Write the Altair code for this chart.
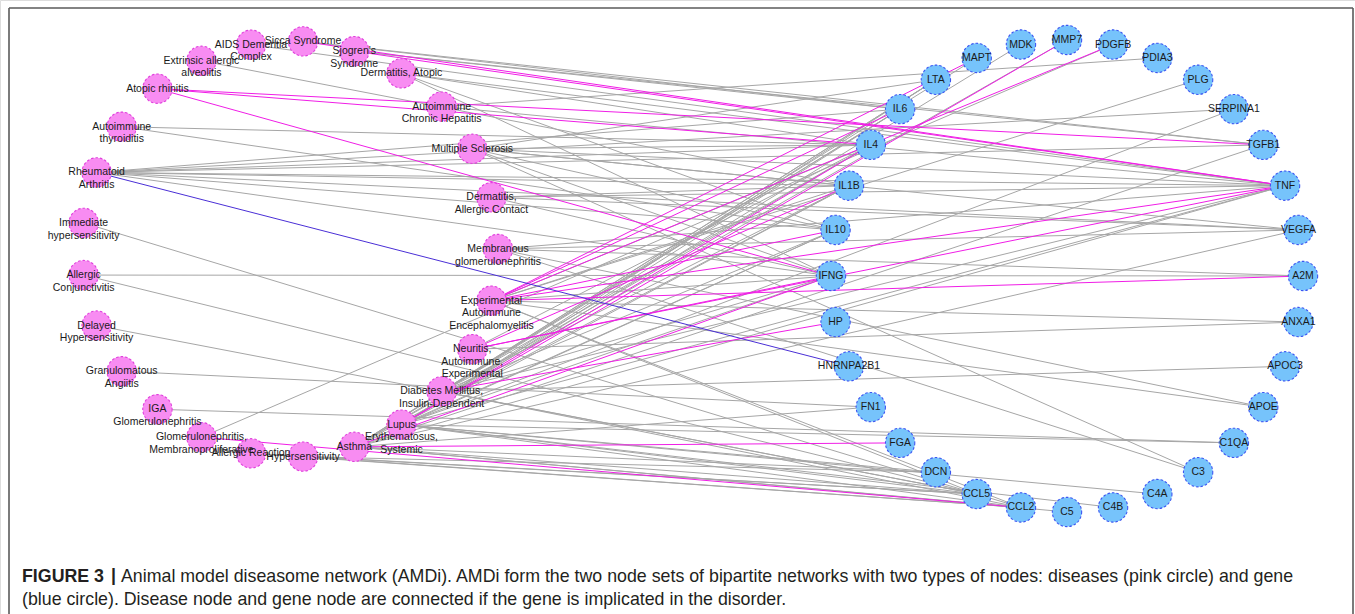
import math
import altair as alt

# Disease nodes, listed clockwise around their ring (starting at 3 o'clock)
diseases = [
    "Membranous glomerulonephritis",
    "Experimental Autoimmune Encephalomyelitis",
    "Neuritis, Autoimmune, Experimental",
    "Diabetes Mellitus, Insulin-Dependent",
    "Lupus Erythematosus, Systemic",
    "Asthma",
    "Hypersensitivity",
    "Allergic Reaction",
    "Glomerulonephritis, Membranoproliferative",
    "IGA Glomerulonephritis",
    "Granulomatous Angiitis",
    "Delayed Hypersensitivity",
    "Allergic Conjunctivitis",
    "Immediate hypersensitivity",
    "Rheumatoid Arthritis",
    "Autoimmune thyroiditis",
    "Atopic rhinitis",
    "Extrinsic allergic alveolitis",
    "AIDS Dementia Complex",
    "Sicca Syndrome",
    "Sjogren's Syndrome",
    "Dermatitis, Atopic",
    "Autoimmune Chronic Hepatitis",
    "Multiple Sclerosis",
    "Dermatitis, Allergic Contact",
]

# Wrapped node captions for the diseases
disease_labels = {
    "Membranous glomerulonephritis": "Membranous\nglomerulonephritis",
    "Experimental Autoimmune Encephalomyelitis": "Experimental\nAutoimmune\nEncephalomyelitis",
    "Neuritis, Autoimmune, Experimental": "Neuritis,\nAutoimmune,\nExperimental",
    "Diabetes Mellitus, Insulin-Dependent": "Diabetes Mellitus,\nInsulin-Dependent",
    "Lupus Erythematosus, Systemic": "Lupus\nErythematosus,\nSystemic",
    "Asthma": "Asthma",
    "Hypersensitivity": "Hypersensitivity",
    "Allergic Reaction": "Allergic Reaction",
    "Glomerulonephritis, Membranoproliferative": "Glomerulonephritis,\nMembranoproliferative",
    "IGA Glomerulonephritis": "IGA\nGlomerulonephritis",
    "Granulomatous Angiitis": "Granulomatous\nAngiitis",
    "Delayed Hypersensitivity": "Delayed\nHypersensitivity",
    "Allergic Conjunctivitis": "Allergic\nConjunctivitis",
    "Immediate hypersensitivity": "Immediate\nhypersensitivity",
    "Rheumatoid Arthritis": "Rheumatoid\nArthritis",
    "Autoimmune thyroiditis": "Autoimmune\nthyroiditis",
    "Atopic rhinitis": "Atopic rhinitis",
    "Extrinsic allergic alveolitis": "Extrinsic allergic\nalveolitis",
    "AIDS Dementia Complex": "AIDS Dementia\nComplex",
    "Sicca Syndrome": "Sicca Syndrome",
    "Sjogren's Syndrome": "Sjogren's\nSyndrome",
    "Dermatitis, Atopic": "Dermatitis, Atopic",
    "Autoimmune Chronic Hepatitis": "Autoimmune\nChronic Hepatitis",
    "Multiple Sclerosis": "Multiple Sclerosis",
    "Dermatitis, Allergic Contact": "Dermatitis,\nAllergic Contact",
}

# Gene nodes, alphabetical, clockwise from 3 o'clock
genes = [
    "A2M", "ANXA1", "APOC3", "APOE", "C1QA", "C3", "C4A", "C4B", "C5",
    "CCL2", "CCL5", "DCN", "FGA", "FN1", "HNRNPA2B1", "HP", "IFNG", "IL10",
    "IL1B", "IL4", "IL6", "LTA", "MAPT", "MDK", "MMP7", "PDGFB", "PDIA3",
    "PLG", "SERPINA1", "TGFB1", "TNF", "VEGFA",
]

# Disease-gene links; kind: g = grey, m = magenta, b = blue
links = {
    "Rheumatoid Arthritis": [("IL6", "g"), ("SERPINA1", "g"), ("IL4", "g"), ("TGFB1", "g"),
                             ("TNF", "g"), ("IL1B", "g"), ("VEGFA", "g"), ("IL10", "g"),
                             ("IFNG", "g"), ("HNRNPA2B1", "b")],
    "AIDS Dementia Complex": [("TNF", "g")],
    "Sicca Syndrome": [("TNF", "m"), ("TGFB1", "g"), ("IL6", "g")],
    "Sjogren's Syndrome": [("TNF", "m"), ("TGFB1", "g"), ("IL6", "g")],
    "Extrinsic allergic alveolitis": [("IL1B", "g")],
    "Dermatitis, Atopic": [("IL4", "g"), ("IFNG", "g"), ("IL10", "g"), ("TNF", "g")],
    "Atopic rhinitis": [("TGFB1", "m"), ("IL4", "m"), ("IFNG", "m")],
    "Autoimmune Chronic Hepatitis": [("PDIA3", "g"), ("TNF", "g")],
    "Autoimmune thyroiditis": [("IL4", "g"), ("IL10", "g")],
    "Multiple Sclerosis": [("TNF", "g"), ("IL4", "g"), ("IL10", "g"), ("IFNG", "g"),
                           ("VEGFA", "g"), ("IL1B", "g"), ("C3", "g"), ("LTA", "g")],
    "Dermatitis, Allergic Contact": [("TNF", "g"), ("IL1B", "g"), ("IFNG", "g"), ("VEGFA", "g")],
    "Immediate hypersensitivity": [("CCL2", "g")],
    "Allergic Conjunctivitis": [("A2M", "g"), ("CCL5", "g")],
    "Membranous glomerulonephritis": [("C3", "g"), ("APOE", "g"), ("TNF", "g"), ("A2M", "g"),
                                      ("VEGFA", "g")],
    "Experimental Autoimmune Encephalomyelitis": [("IL6", "m"), ("PDGFB", "m"), ("TNF", "m"),
                                                  ("A2M", "m"), ("IL10", "m"), ("IFNG", "g"),
                                                  ("IL4", "g"), ("IL1B", "g"), ("CCL2", "g"),
                                                  ("CCL5", "g"), ("MAPT", "m"), ("ANXA1", "g"),
                                                  ("APOE", "g"), ("PLG", "g")],
    "Delayed Hypersensitivity": [("CCL5", "g")],
    "Neuritis, Autoimmune, Experimental": [("IFNG", "m"), ("TNF", "m"), ("IL1B", "m"),
                                           ("ANXA1", "g"), ("IL4", "g")],
    "Granulomatous Angiitis": [("FN1", "g")],
    "Diabetes Mellitus, Insulin-Dependent": [("HP", "m"), ("IL6", "g"), ("IL4", "g"), ("IL10", "g"),
                                             ("IFNG", "g"), ("TNF", "g"), ("IL1B", "g"), ("LTA", "g"),
                                             ("CCL5", "g"), ("CCL2", "g"), ("APOC3", "g")],
    "IGA Glomerulonephritis": [("C1QA", "g")],
    "Lupus Erythematosus, Systemic": [("IL6", "g"), ("IL4", "m"), ("IL10", "g"), ("IL1B", "g"),
                                      ("IFNG", "g"), ("LTA", "g"), ("MMP7", "m"), ("MDK", "g"),
                                      ("TNF", "g"), ("CCL5", "g"), ("CCL2", "g"),
                                      ("C4A", "g"), ("C4B", "g"), ("C1QA", "g"), ("DCN", "g"),
                                      ("SERPINA1", "g")],
    "Glomerulonephritis, Membranoproliferative": [("PDGFB", "g"), ("CCL2", "m")],
    "Asthma": [("FGA", "m"), ("IL4", "g"), ("IL6", "g"), ("IL1B", "g"), ("IL10", "g"),
               ("IFNG", "m"), ("LTA", "g"), ("MMP7", "g"), ("CCL5", "g"), ("CCL2", "g"),
               ("DCN", "g"), ("FN1", "g"), ("TNF", "g"), ("C5", "g"), ("MAPT", "g"),
               ("TGFB1", "g"), ("VEGFA", "g")],
    "Allergic Reaction": [("CCL5", "g"), ("CCL2", "g")],
    "Hypersensitivity": [("CCL5", "g"), ("CCL2", "g"), ("DCN", "g")],
}

caption_head = "FIGURE 3"
caption_bar = "|"
caption_line1 = ("Animal model diseasome network (AMDi). AMDi form the two node sets of bipartite "
                 "networks with two types of nodes: diseases (pink circle) and gene")
caption_line2 = ("(blue circle). Disease node and gene node are connected if the gene is "
                 "implicated in the disorder.")

W, H = 1355, 614


def ring(names, cx, cy, r):
    """Place names evenly on a circle, clockwise on screen from 3 o'clock."""
    n = len(names)
    out = {}
    for i, name in enumerate(names):
        a = 2 * math.pi * i / n
        out[name] = (cx + r * math.cos(a), cy + r * math.sin(a))
    return out


pos = {}
pos.update(ring(diseases, 290, 249, 208))
pos.update(ring(genes, 1067, 276, 236))

edge_rows = []
for dis, targets in links.items():
    for gene, kind in targets:
        x1, y1 = pos[dis]
        x2, y2 = pos[gene]
        edge_rows.append({"x": x1, "y": y1, "x2": x2, "y2": y2, "kind": kind,
                          "order": {"g": 0, "m": 1, "b": 2}[kind]})
edge_rows.sort(key=lambda r: r["order"])

node_rows = []
for d in diseases:
    node_rows.append({"x": pos[d][0], "y": pos[d][1], "type": "disease",
                      "label": disease_labels[d]})
for g in genes:
    node_rows.append({"x": pos[g][0], "y": pos[g][1], "type": "gene", "label": g})

xs = alt.Scale(domain=[0, W], range=[0, W], nice=False, zero=False)
ys = alt.Scale(domain=[0, H], range=[0, H], nice=False, zero=False)
noax = None

edges = alt.Chart(alt.Data(values=edge_rows)).mark_rule(strokeWidth=1.0).encode(
    x=alt.X("x:Q", scale=xs, axis=noax),
    y=alt.Y("y:Q", scale=ys, axis=noax),
    x2="x2:Q",
    y2="y2:Q",
    color=alt.Color("kind:N", legend=None,
                    scale=alt.Scale(domain=["g", "m", "b"],
                                    range=["#a6a6a6", "#f01ee6", "#4a2fd6"])),
    order="order:Q",
)

nodes = alt.Chart(alt.Data(values=node_rows)).mark_point(
    shape="circle", size=860, filled=True, strokeWidth=1.1, strokeDash=[2.5, 2],
    opacity=1,
).encode(
    x=alt.X("x:Q", scale=xs, axis=noax),
    y=alt.Y("y:Q", scale=ys, axis=noax),
    fill=alt.Fill("type:N", legend=None,
                  scale=alt.Scale(domain=["disease", "gene"], range=["#f88cf2", "#76c3fb"])),
    stroke=alt.Stroke("type:N", legend=None,
                      scale=alt.Scale(domain=["disease", "gene"], range=["#e040dc", "#3d55f2"])),
)

labels = alt.Chart(alt.Data(values=node_rows)).mark_text(
    font="Liberation Sans", fontSize=10.5, lineHeight=12.6, lineBreak="\n",
    align="center", baseline="middle", color="#1a1a1a",
).encode(
    x=alt.X("x:Q", scale=xs, axis=noax),
    y=alt.Y("y:Q", scale=ys, axis=noax),
    text="label:N",
)

frame = alt.Chart(alt.Data(values=[{"k": 1}])).mark_rule(color="#5a5a5a", strokeWidth=1.6)
frame_left = frame.encode(x=alt.value(9), y=alt.value(8), y2=alt.value(H))
frame_right = frame.encode(x=alt.value(1353), y=alt.value(8), y2=alt.value(H))
frame_top = frame.encode(x=alt.value(9), x2=alt.value(1353), y=alt.value(8))

cap_style = dict(font="Liberation Sans", fontSize=17.8, align="left",
                 baseline="middle", color="#231f20")
cap_head = alt.Chart(alt.Data(values=[{"t": caption_head}])).mark_text(
    fontWeight="bold", **cap_style
).encode(x=alt.value(22), y=alt.value(577), text="t:N")
cap_bar = alt.Chart(alt.Data(values=[{"t": caption_bar}])).mark_text(
    fontWeight="bold", **cap_style
).encode(x=alt.value(111), y=alt.value(576), text="t:N")
cap1 = alt.Chart(alt.Data(values=[{"t": caption_line1}])).mark_text(**cap_style).encode(
    x=alt.value(121), y=alt.value(577), text="t:N")
cap2 = alt.Chart(alt.Data(values=[{"t": caption_line2}])).mark_text(**cap_style).encode(
    x=alt.value(22), y=alt.value(600), text="t:N")

chart = alt.layer(
    edges, nodes, labels, frame_left, frame_right, frame_top, cap_head, cap_bar, cap1, cap2
).properties(
    width=W, height=H, padding=0, autosize=alt.AutoSizeParams(type="none"),
).configure_view(stroke=None).configure(background="white")

chart.save("out.html", embed_options={"renderer": "svg", "actions": False})
